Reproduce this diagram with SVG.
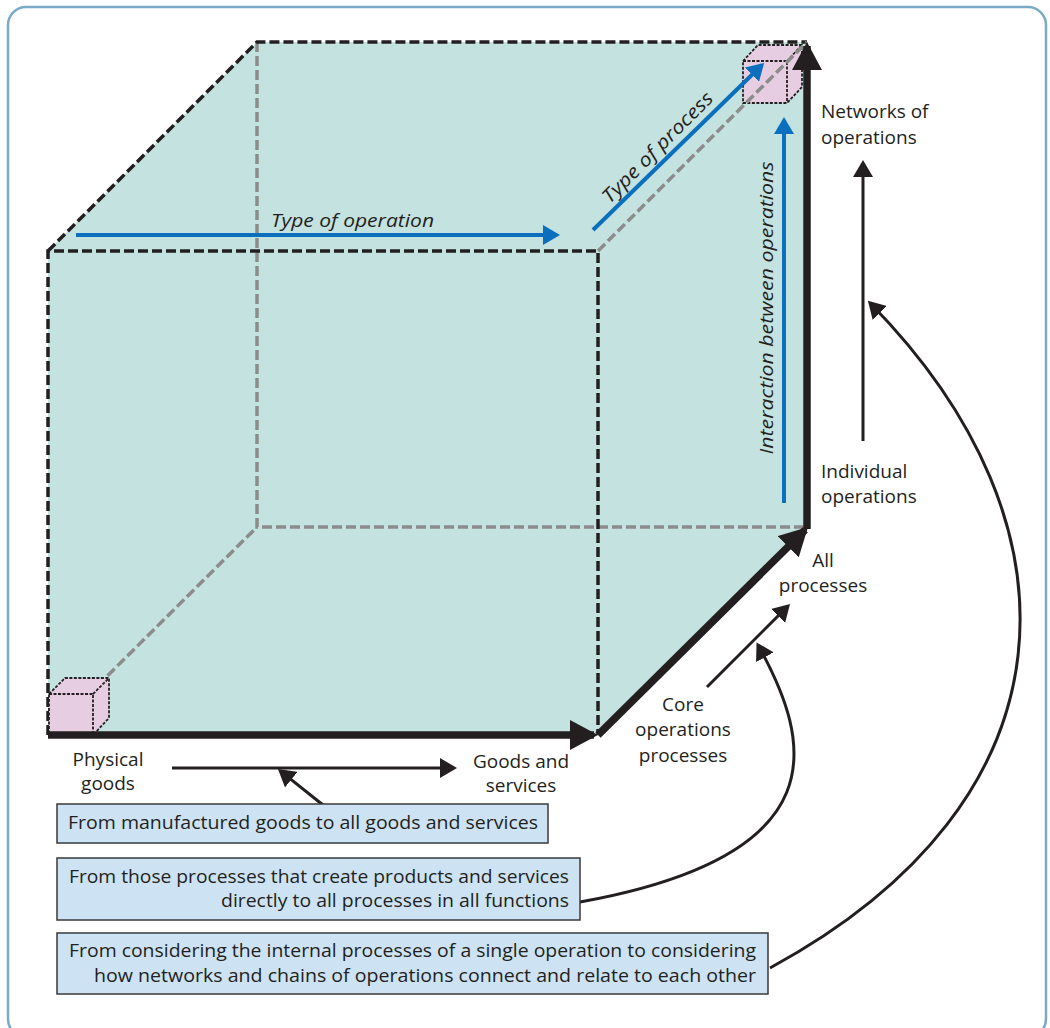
<svg xmlns="http://www.w3.org/2000/svg" width="1050" height="1028" viewBox="0 0 1050 1028">
<defs>
<style>
.lbl{font-family:"Open Sans","Liberation Sans",sans-serif;font-size:19px;fill:#231f20}
.it{font-style:italic}
.mid{text-anchor:middle}
.box rect{fill:#cde3f4;stroke:#3a3a3a;stroke-width:1.5}
.box text{font-family:"Open Sans","Liberation Sans",sans-serif;font-size:19px;fill:#231f20}
.dk{fill:none;stroke:#231f20;stroke-width:3.5;stroke-dasharray:10 4}
.gr{fill:none;stroke:#8c8c8c;stroke-width:3.5;stroke-dasharray:10 4}
.thin{fill:none;stroke:#231f20;stroke-width:3;marker-end:url(#ah)}
.thick{fill:none;stroke:#231f20;stroke-width:7.5;marker-end:url(#aht)}
.blue{fill:none;stroke:#0a6fbd;stroke-width:4;marker-end:url(#ahb)}
.mini{fill:#e7cde2;stroke:#231f20;stroke-width:1.8;stroke-dasharray:3 1.5;stroke-linejoin:round}
.mini2{fill:none;stroke:#231f20;stroke-width:1.8;stroke-dasharray:3 1.5}
</style>
<marker id="ah" markerUnits="userSpaceOnUse" viewBox="0 0 17 20" refX="14" refY="10" markerWidth="17" markerHeight="20" orient="auto"><path d="M0,0 L17,10 L0,20 z" fill="#231f20"/></marker>
<marker id="ahb" markerUnits="userSpaceOnUse" viewBox="0 0 17 20" refX="14" refY="10" markerWidth="17" markerHeight="20" orient="auto"><path d="M0,0 L17,10 L0,20 z" fill="#0a6fbd"/></marker>
<marker id="aht" markerUnits="userSpaceOnUse" viewBox="0 0 28 30" refX="24" refY="15" markerWidth="28" markerHeight="30" orient="auto"><path d="M0,0 L28,15 L0,30 z" fill="#231f20"/></marker>
</defs>
<rect id="frame" x="8" y="7" width="1038" height="1030" rx="18" fill="none" stroke="#79abc9" stroke-width="2.5"/>
<g id="cube">
<polygon points="48,251 257,42 807,42 807,527 598,735 48,735" fill="#c4e2df"/>
<path class="gr" d="M257,42 V527 H807 M48,735 L257,527"/>
<path class="dk" d="M48,735 V251 H598 V735 M48,251 L257,42 H807"/>
</g>
<g id="mini-cube-start">
<path class="mini" d="M49,694 L65,678 H109 V718 L93,735 H49 Z"/>
<path class="mini2" d="M49,694 H93 V735 M93,694 L109,678"/>
</g>
<g id="mini-cube-end">
<path class="mini" d="M743,61 L758,45 H802 V87 L787,103 H743 Z"/>
<path class="mini2" d="M743,61 H787 V103 M787,61 L802,45"/>
</g>
<path class="gr" d="M598,251 L807,42"/>
<g id="axes">
<path class="thick" d="M48,735 H594"/>
<path class="thick" d="M598,735 L805.2,529.8"/>
<path class="thick" d="M807,529 V46"/>
</g>
<g id="dimension-arrows">
<path class="blue" d="M76,235 H557"/>
<path class="blue" d="M593,230 L762,65"/>
<path class="blue" d="M784,503 V120"/>
</g>
<g id="connectors">
<path class="thin" d="M172,768 H454"/>
<path class="thin" d="M323,805 L280.3,770.9"/>
<path class="thin" d="M707,687 L787.9,606.1"/>
<path class="thin" d="M863,441 V163"/>
<path class="thin" d="M580,902 C840,855 812,742 758,645"/>
<path class="thin" d="M770,968 C1080,800 1088,525 870,303"/>
</g>
<g id="labels">
<text class="lbl it" x="271" y="227" textLength="163" lengthAdjust="spacingAndGlyphs">Type of operation</text>
<text class="lbl it mid" x="662" y="152" transform="rotate(-45 662 152)" textLength="148" lengthAdjust="spacingAndGlyphs">Type of process</text>
<text class="lbl it mid" x="773" y="308" transform="rotate(-90 773 308)" textLength="293" lengthAdjust="spacingAndGlyphs">Interaction between operations</text>
<g id="lbl-networks"><text class="lbl" x="821" y="118">Networks of</text><text class="lbl" x="821" y="144">operations</text></g>
<g id="lbl-individual"><text class="lbl" x="821" y="478">Individual</text><text class="lbl" x="821" y="503">operations</text></g>
<g id="lbl-all"><text class="lbl mid" x="823" y="567">All</text><text class="lbl mid" x="823" y="592">processes</text></g>
<g id="lbl-core"><text class="lbl mid" x="683" y="711">Core</text><text class="lbl mid" x="683" y="736">operations</text><text class="lbl mid" x="683" y="762">processes</text></g>
<g id="lbl-goods-services"><text class="lbl mid" x="521" y="768">Goods and</text><text class="lbl mid" x="521" y="792">services</text></g>
<g id="lbl-physical"><text class="lbl mid" x="108" y="766">Physical</text><text class="lbl mid" x="108" y="790">goods</text></g>
</g>
<g id="box1" class="box">
<rect x="57" y="804" width="491" height="39"/>
<text x="68" y="829" textLength="470" lengthAdjust="spacingAndGlyphs">From manufactured goods to all goods and services</text>
</g>
<g id="box2" class="box">
<rect x="57" y="858" width="523" height="62"/>
<text x="69" y="883" textLength="500" lengthAdjust="spacingAndGlyphs">From those processes that create products and services</text>
<text x="221" y="907" textLength="348" lengthAdjust="spacingAndGlyphs">directly to all processes in all functions</text>
</g>
<g id="box3" class="box">
<rect x="57" y="933" width="711" height="61"/>
<text x="69" y="957" textLength="687" lengthAdjust="spacingAndGlyphs">From considering the internal processes of a single operation to considering</text>
<text x="94" y="982" textLength="662" lengthAdjust="spacingAndGlyphs">how networks and chains of operations connect and relate to each other</text>
</g>
</svg>
